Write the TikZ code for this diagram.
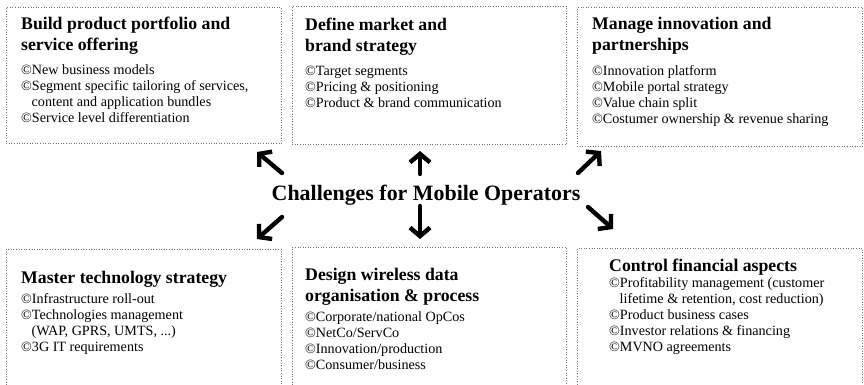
\documentclass[tikz,border=0pt]{standalone}
\usepackage{fontspec}
\setmainfont{Liberation Serif}
\usetikzlibrary{arrows.meta}
% one list entry: copyright-sign bullet, continuation lines hang under the text
\newcommand\bitem[1]{\par\noindent\hangindent=10.5bp\hangafter=1 \textcopyright#1}
\newcommand\heading[1]{\parbox[t]{280bp}{\raggedright #1}}
\newcommand\entries[1]{\parbox[t]{280bp}{\raggedright #1}}
\tikzset{
  panel/.style={draw=black!55, dotted, line width=0.6bp, inner sep=0, anchor=north west},
  headtext/.style={anchor=base west, inner sep=0, font=\fontsize{17.8}{22}\selectfont\bfseries},
  listtext/.style={anchor=base west, inner sep=0, font=\fontsize{14.2}{16.2}\selectfont},
  hubtext/.style={anchor=base, inner sep=0, font=\fontsize{22}{24}\selectfont\bfseries},
  push/.style={line width=4.4bp, line cap=round, line join=round,
    -{Straight Barb[length=8.5bp,width=20bp]}}
}
\begin{document}
\begin{tikzpicture}[x=1bp, y=-1bp]
\useasboundingbox (0,0) rectangle (864,384);
\clip (0,0) rectangle (864,384);

% frames
\node[panel, minimum width=275bp, minimum height=136bp] (b1) at (6,7) {};
\node[panel, minimum width=274bp, minimum height=138bp] (b2) at (292,6) {};
\node[panel, minimum width=285bp, minimum height=139bp] (b3) at (577,7) {};
\node[panel, minimum width=275bp, minimum height=150bp] (b4) at (6,249) {};
\node[panel, minimum width=274bp, minimum height=150bp] (b5) at (292,247) {};
\node[panel, minimum width=285bp, minimum height=150bp] (b6) at (577,248) {};

% top row
\node[headtext] (t1) at (21,29) {\heading{Build product portfolio and\\service offering}};
\node[listtext] (l1) at (21,74) {\entries{\bitem{New business models}\bitem{Segment specific tailoring of services,\newline content and application bundles}\bitem{Service level differentiation}}};

\node[headtext] (t2) at (305,30) {\heading{Define market and\\brand strategy}};
\node[listtext] (l2) at (305,75) {\entries{\bitem{Target segments}\bitem{Pricing \& positioning}\bitem{Product \& brand communication}}};

\node[headtext] (t3) at (592,29) {\heading{Manage innovation and\\partnerships}};
\node[listtext] (l3) at (592,75) {\entries{\bitem{Innovation platform}\bitem{Mobile portal strategy}\bitem{Value chain split}\bitem{Costumer ownership \& revenue sharing}}};

% bottom row
\node[headtext] (t4) at (21,283) {\heading{Master technology strategy}};
\node[listtext] (l4) at (21,303) {\entries{\bitem{Infrastructure roll-out}\bitem{Technologies management\newline (WAP, GPRS, UMTS, ...)}\bitem{3G IT requirements}}};

\node[headtext] (t5) at (305,280) {\heading{Design wireless data\\organisation \& process}};
\node[listtext] (l5) at (305,321) {\entries{\bitem{Corporate/national OpCos}\bitem{NetCo/ServCo}\bitem{Innovation/production}\bitem{Consumer/business}}};

\node[headtext] (t6) at (609,271) {\heading{Control financial aspects}};
\node[listtext] (l6) at (609,287) {\entries{\bitem{Profitability management (customer\newline lifetime \& retention, cost reduction)}\bitem{Product business cases}\bitem{Investor relations \& financing}\bitem{MVNO agreements}}};

% hub
\node[hubtext] (hub) at (426,200) {Challenges for Mobile Operators};

% arrows radiating from the hub
\coordinate (nwS) at (282,173); \coordinate (nwE) at (257,152);
\coordinate (nS)  at (420,174); \coordinate (nE)  at (420,151);
\coordinate (neS) at (578,173); \coordinate (neE) at (601,151);
\coordinate (swS) at (282,217); \coordinate (swE) at (257,239);
\coordinate (sS)  at (420,206); \coordinate (sE)  at (420,239);
\coordinate (seS) at (588,207); \coordinate (seE) at (613,229);
\foreach \a in {nw,n,ne,sw,s,se}
  \draw[push] (\a S) -- (\a E);
\end{tikzpicture}
\end{document}
